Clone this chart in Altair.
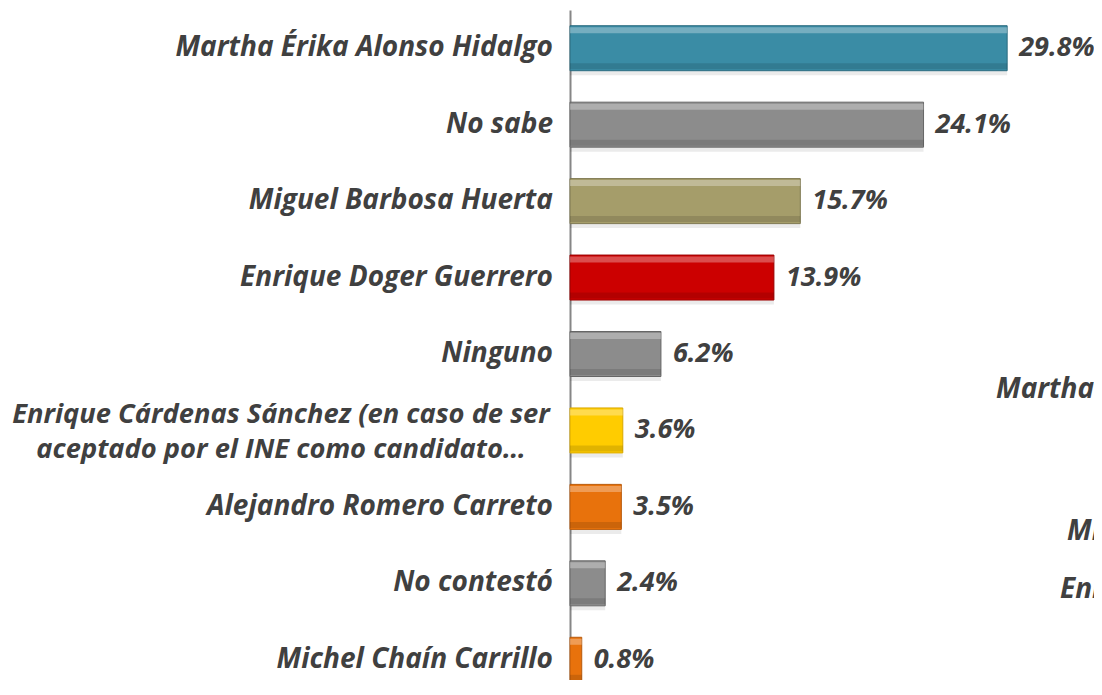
import altair as alt
import pandas as pd

categories = [
    "Martha Érika Alonso Hidalgo",
    "No sabe",
    "Miguel Barbosa Huerta",
    "Enrique Doger Guerrero",
    "Ninguno",
    "Enrique Cárdenas Sánchez (en caso de ser\naceptado por el INE como candidato…",
    "Alejandro Romero Carreto",
    "No contestó",
    "Michel Chaín Carrillo",
]
values = [29.8, 24.1, 15.7, 13.9, 6.2, 3.6, 3.5, 2.4, 0.8]
colors = ["#3A8CA5", "#8C8C8C", "#A59D6A", "#CC0000", "#8C8C8C",
          "#FFCC00", "#E8720C", "#8C8C8C", "#E8720C"]
edge_colors = ["#2A6A7E", "#666666", "#7E7850", "#990000", "#666666",
               "#D9A800", "#B8590A", "#666666", "#B8590A"]
ghost_texts = ["Martha Érika Alonso Hidalgo", "Miguel Barbosa Huerta", "Enrique Doger Guerrero"]

df = pd.DataFrame({"cat": categories, "value": values})
df["label"] = [f"{v:.1f}%" for v in values]
df["multi"] = ["\n" in c for c in categories]

FONT = "Open Sans"
FS = 28
FSV = 27
TXT = "#404040"

y_enc = alt.Y("cat:N", sort=categories,
              scale=alt.Scale(domain=categories, range=[0, 688], paddingInner=0, paddingOuter=0),
              axis=alt.Axis(labels=False, ticks=False, title=None, grid=False,
                            domainColor="#868686", domainWidth=2))
x_enc = alt.X("value:Q", scale=alt.Scale(domain=[0, 35.72]), axis=None)

base = alt.Chart(df)

bars = base.mark_bar(size=45, strokeWidth=1).encode(
    x=x_enc, y=y_enc,
    fill=alt.Fill("cat:N", scale=alt.Scale(domain=categories, range=colors), legend=None),
    stroke=alt.Stroke("cat:N", scale=alt.Scale(domain=categories, range=edge_colors), legend=None),
)
shadow = base.mark_bar(size=4, yOffset=25, color="black", opacity=0.08).encode(x=x_enc, y=y_enc)
hilite = base.mark_bar(size=6, yOffset=-18, color="white", opacity=0.3).encode(x=x_enc, y=y_enc)
lowlite = base.mark_bar(size=6, yOffset=18, color="black", opacity=0.12).encode(x=x_enc, y=y_enc)

vals = base.mark_text(align="left", baseline="middle", dx=12, font=FONT, fontSize=FSV,
                      fontStyle="italic", fontWeight="bold", color=TXT).encode(
    x=x_enc, y=y_enc, text="label:N")

labels = base.transform_filter("!datum.multi").mark_text(
    align="right", baseline="middle", font=FONT, fontSize=FS, fontStyle="italic",
    fontWeight="bold", color=TXT).encode(x=alt.value(-17), y=y_enc, text="cat:N")

labels2 = base.transform_filter("datum.multi").mark_text(
    align="center", baseline="middle", dy=-15, font=FONT, fontSize=27.3, fontStyle="italic",
    fontWeight="bold", color=TXT, lineBreak="\n", lineHeight=35).encode(
    x=alt.value(-289), y=y_enc, text="cat:N")

ghost_pos = [(426, 380), (497, 522), (490, 580)]
ghosts = []
for t, (gx, gy) in zip(ghost_texts, ghost_pos):
    ghosts.append(alt.Chart(pd.DataFrame({"t": [t]})).mark_text(
        align="left", baseline="middle", font=FONT, fontSize=FS, fontStyle="italic",
        fontWeight="bold", color=TXT).encode(x=alt.value(gx), y=alt.value(gy), text="t:N"))

chart = alt.layer(shadow, bars, hilite, lowlite, vals, labels, labels2, *ghosts).properties(
    width=524, height=670,
    autosize=alt.AutoSizeParams(type="none"),
    padding={"left": 562, "top": 2, "right": 0, "bottom": 0},
).configure_view(stroke=None)

chart.save("out.html", embed_options={"renderer": "svg", "actions": False})
